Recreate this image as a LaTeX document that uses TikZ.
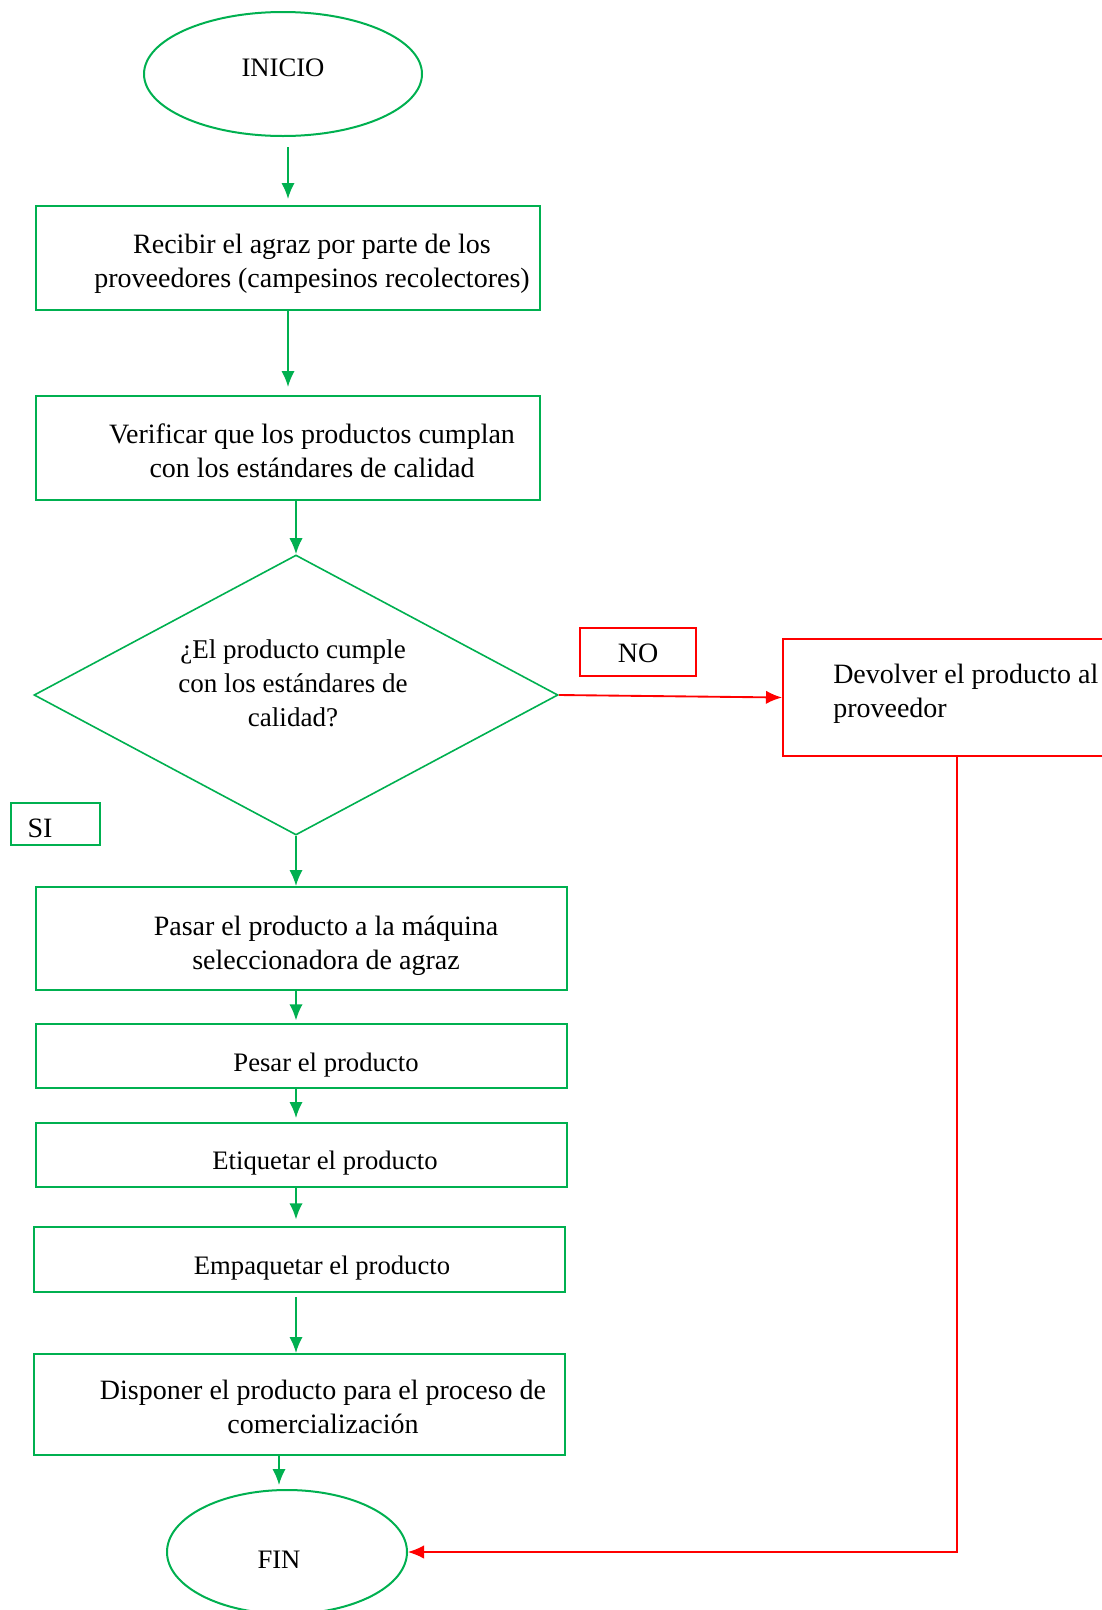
\documentclass[tikz,border=0pt]{standalone}
\usepackage{fontspec}
\setmainfont{Liberation Serif}
\usetikzlibrary{shapes.geometric,arrows.meta}
\definecolor{verde}{RGB}{0,176,80}
\definecolor{rojo}{RGB}{255,0,0}

\begin{document}
\begin{tikzpicture}[x=0.75pt,y=0.75pt,yscale=-1,xscale=1,
	caja/.style={draw=verde,line width=1.5pt,inner sep=0pt},
	cajaroja/.style={draw=rojo,line width=1.5pt,inner sep=0pt},
	texto/.style={inner sep=0pt,align=center,font=\fontsize{21}{25.5}\selectfont},
	textocorto/.style={texto,font=\fontsize{20}{25.5}\selectfont},
	flecha/.style={draw=verde,line width=1.4pt,-{Latex[length=12pt,width=10pt]}},
	flecharoja/.style={draw=rojo,-{Latex[length=12pt,width=10pt]}}]
			\useasboundingbox (0,0) rectangle (1101,1610);
			\draw (283,74) node [caja,ellipse,minimum width=208.5pt,minimum height=93pt] (ini) {};
			\draw (288,258) node [caja,minimum width=378pt,minimum height=78pt] (rec) {};
			\draw (288,448) node [caja,minimum width=378pt,minimum height=78pt] (ver) {};
			\draw (296,695) node [caja,diamond,line width=1.2pt,minimum width=393pt,minimum height=210pt] (dec) {};
			\draw (638,652) node [cajaroja,minimum width=87pt,minimum height=36pt] (no) {};
			\draw (957,697.5) node [cajaroja,minimum width=261pt,minimum height=87.75pt] (dev) {};
			\draw (55.5,824) node [caja,minimum width=66.75pt,minimum height=31.5pt] (si) {};
			\draw (301.5,938.5) node [caja,minimum width=398.25pt,minimum height=77.25pt] (pas) {};
			\draw (301.5,1056) node [caja,minimum width=398.25pt,minimum height=48pt] (pes) {};
			\draw (301.5,1155) node [caja,minimum width=398.25pt,minimum height=48pt] (eti) {};
			\draw (299.5,1259.5) node [caja,minimum width=398.25pt,minimum height=48.75pt] (emp) {};
			\draw (299.5,1404.5) node [caja,minimum width=398.25pt,minimum height=75.75pt] (dis) {};
			\draw (287,1552) node [caja,ellipse,minimum width=180pt,minimum height=93pt] (fin) {};
			
			\draw (283,68) node [textocorto] (ini-t) {INICIO};
			\draw (312,264) node [texto] (rec-t) {Recibir el agraz por parte de los\\proveedores (campesinos recolectores)};
			\draw (312,451) node [texto] (ver-t) {Verificar que los productos cumplan\\con los estándares de calidad};
			\draw (293,683) node [texto,font=\fontsize{20.3}{25.5}\selectfont] (dec-t) {¿El producto cumple\\con los estándares de\\calidad?};
			\draw (638,653) node [texto] (no-t) {NO};
			\draw (833,694) node [texto,anchor=west,align=left] (dev-t) {Devolver el producto al\\proveedor};
			\draw (40,828) node [texto] (si-t) {SI};
			\draw (326,946) node [texto] (pas-t) {Pasar el producto a la máquina\\seleccionadora de agraz};
			\draw (326,1065) node [textocorto] (pes-t) {Pesar el producto};
			\draw (325,1163) node [textocorto] (eti-t) {Etiquetar el producto};
			\draw (322,1268) node [textocorto] (emp-t) {Empaquetar el producto};
			\draw (323,1407) node [texto] (dis-t) {Disponer el producto para el proceso de\\comercialización};
			\draw (279,1560) node [textocorto] (fin-t) {FIN};
			
			\draw [flecha,shorten <=7.5pt,shorten >=4.5pt] (ini.south -| rec.north) -- (rec.north);
			\draw [flecha,shorten >=6pt] (rec.south) -- (ver.north);
			\draw [flecha] (ver.south -| dec.north) -- (dec.north);
			\draw [flecha] (dec.south) -- (pas.north -| dec.south);
			\draw [flecha,shorten >=2pt] (pas.south -| dec.south) -- (pes.north -| dec.south);
			\draw [flecha,shorten >=3pt] (pes.south -| dec.south) -- (eti.north -| dec.south);
			\draw [flecha,shorten >=5pt] (eti.south -| dec.south) -- (emp.north -| dec.south);
			\draw [flecha,shorten <=3pt] (emp.south -| dec.south) -- (dis.north -| dec.south);
			\draw [flecha,shorten >=3pt] (dis.south -| fin-t) -- (fin.north -| fin-t);
			\draw [flecharoja,line width=1.4pt] (dec.east) -- (dev.west);
			\draw [flecharoja,line width=0.9pt] (dev.south) |- (fin.east);
			\end{tikzpicture}
\end{document}
